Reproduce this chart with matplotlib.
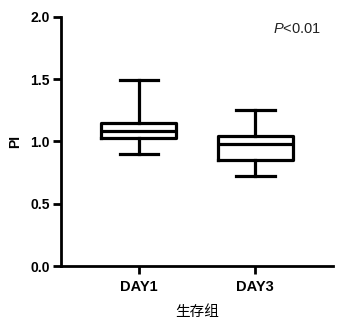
import matplotlib
matplotlib.use("Agg")
import matplotlib.pyplot as plt

# box summary values
groups = ["DAY1", "DAY3"]
whislo = [0.90, 0.72]
q1 = [1.03, 0.85]
med = [1.08, 0.98]
q3 = [1.145, 1.045]
whishi = [1.49, 1.25]

plt.rcParams['font.family'] = ['Liberation Sans', 'DejaVu Sans']
plt.rcParams['mathtext.fontset'] = 'custom'
plt.rcParams['mathtext.it'] = 'Liberation Sans:italic'
plt.rcParams['mathtext.rm'] = 'Liberation Sans'

fig = plt.figure(figsize=(3.57, 3.29), dpi=100)
ax = fig.add_axes([0.171, 0.191, 0.762, 0.758])

stats = []
for i in range(len(groups)):
    stats.append({"label": groups[i], "whislo": whislo[i], "q1": q1[i],
                  "med": med[i], "q3": q3[i], "whishi": whishi[i]})

lw = 2.3
ax.bxp(stats, positions=range(len(groups)), widths=0.64, showfliers=False,
       boxprops=dict(color="black", linewidth=lw),
       medianprops=dict(color="black", linewidth=lw),
       whiskerprops=dict(color="black", linewidth=lw),
       capprops=dict(color="black", linewidth=lw),
       capwidths=0.33)

ax.set_xlim(-0.667, 1.667)
ax.set_ylim(0, 2.0)
ax.set_yticks([0.0, 0.5, 1.0, 1.5, 2.0])
ax.set_yticklabels(["0.0", "0.5", "1.0", "1.5", "2.0"], fontsize=10, fontweight="bold")
ax.set_xticks(range(len(groups)))
ax.set_xticklabels(groups, fontsize=10.5, fontweight="bold")

for s in ["top", "right"]:
    ax.spines[s].set_visible(False)
for s in ["left", "bottom"]:
    ax.spines[s].set_linewidth(2.0)
ax.tick_params(axis="y", direction="out", length=6, width=2.0, pad=2)
ax.tick_params(axis="x", direction="out", length=6, width=2.0, pad=4)

ax.set_ylabel("PI", fontsize=10, fontweight="bold", labelpad=6)
ax.set_xlabel("生存组", fontsize=10.5, family=["Noto Sans CJK SC", "DejaVu Sans"], labelpad=8)

ax.text(1.152, 1.905, "$\\it{P}$<0.01", fontsize=10.5, ha="left", va="center",
        color="#222222")

fig.savefig("out.png", dpi=100)
